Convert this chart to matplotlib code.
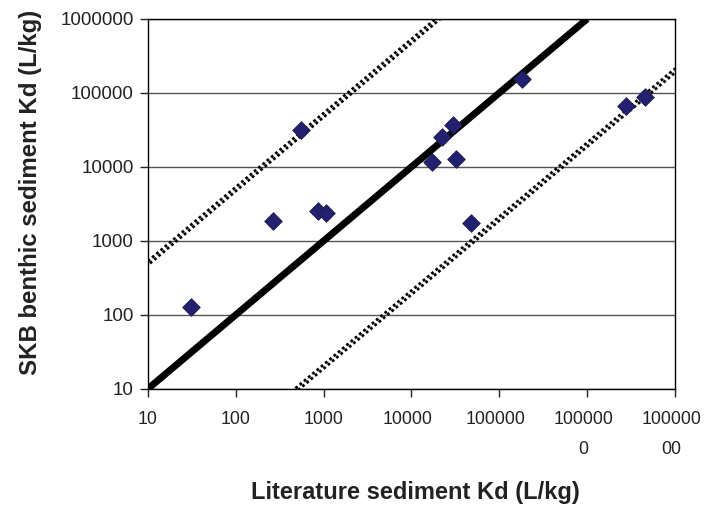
import numpy as np
import matplotlib.pyplot as plt
import matplotlib.transforms as mtransforms

plt.rcParams['font.family'] = ['Liberation Sans', 'DejaVu Sans']

# Literature Kd vs SKB benthic sediment Kd (L/kg)
lit_kd = [31, 265, 870, 1070, 550, 182000, 29500, 22400, 17300, 32000, 48000, 2.75e6, 4.5e6]
skb_kd = [128, 1860, 2570, 2400, 31000, 155000, 37000, 25500, 11800, 12900, 1740, 66000, 89000]

x_ticks = [10, 100, 1000, 10000, 100000, 1000000, 10000000]
x_tick_labels = ['10', '100', '1000', '10000', '100000', '100000\n0', '100000\n00']
y_ticks = [10, 100, 1000, 10000, 100000, 1000000]
y_tick_labels = ['10', '100', '1000', '10000', '100000', '1000000']

one_to_one = [10, 1e6]
factor = 50  # dotted lines: factor of 50 above/below

fig = plt.figure(figsize=(7.04, 5.09), dpi=100)
ax = fig.add_axes([0.210, 0.236, 0.749, 0.727])
ax.set_xscale('log')
ax.set_yscale('log')
ax.set_xlim(10, 1e7)
ax.set_ylim(10, 1e6)

# horizontal gridlines
for yv in y_ticks:
    ax.axhline(yv, color='#555555', lw=1.0, zorder=1)

# factor-of-50 lines drawn as doubled dotted lines
xs = np.array([10, 1e7])
off = 10 ** 0.027
for f in (factor, 1.0 / factor):
    ax.plot(xs, xs * f * off, color='black', lw=2.0, ls=(0, (1, 1)), zorder=2)
    ax.plot(xs, xs * f / off, color='black', lw=2.0, ls=(1, (1, 1)), zorder=2)

# 1:1 line
ax.plot(one_to_one, one_to_one, color='black', lw=5, solid_capstyle='butt', zorder=3)

ax.scatter(lit_kd, skb_kd, marker='D', s=80, color='#232072', edgecolor='#1a1a40',
           linewidth=0.6, zorder=4, clip_on=False)

ax.set_xticks(x_ticks)
ax.set_xticklabels(x_tick_labels, linespacing=2.0, va='top')
ax.set_yticks(y_ticks)
ax.set_yticklabels(y_tick_labels)
ax.minorticks_off()
ax.tick_params(axis='x', direction='out', length=6, width=1, pad=10, labelsize=12.8, colors='#222222')
ax.tick_params(axis='y', direction='out', length=6, width=1, pad=4, labelsize=13.5, colors='#222222')
for s in ax.spines.values():
    s.set_color('black')
    s.set_linewidth(1.0)

# longer labels sit a little left of their ticks
shift = mtransforms.ScaledTranslation(-0.04, 0, fig.dpi_scale_trans)
for lab in ax.get_xticklabels()[3:]:
    lab.set_transform(lab.get_transform() + shift)

fig.text(0.59, 0.033, 'Literature sediment Kd (L/kg)', ha='center', va='center',
         fontsize=17, fontweight='bold', color='#222222')
fig.text(0.043, 0.623, 'SKB benthic sediment Kd (L/kg)', ha='center', va='center',
         rotation=90, fontsize=17.3, fontweight='bold', color='#222222')

fig.savefig('out.png', dpi=100)
